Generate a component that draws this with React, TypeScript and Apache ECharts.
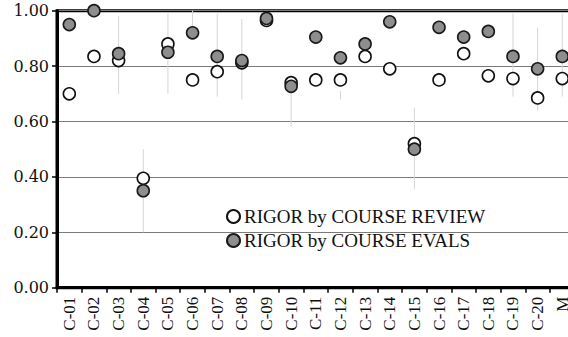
import React, { useEffect, useRef } from "react";
import * as echarts from "echarts";

// Course codes along the x axis
const categories = [
  "C-01", "C-02", "C-03", "C-04", "C-05", "C-06", "C-07", "C-08", "C-09", "C-10",
  "C-11", "C-12", "C-13", "C-14", "C-15", "C-16", "C-17", "C-18", "C-19", "C-20", "M",
];

// Rigor score from the course review
const reviewRigor = [
  0.70, 0.835, 0.82, 0.395, 0.88, 0.75, 0.78, 0.812, 0.965, 0.74,
  0.75, 0.75, 0.835, 0.79, 0.52, 0.75, 0.845, 0.765, 0.755, 0.685, 0.755,
];

// Rigor score from course evaluations
const evalRigor = [
  0.95, 1.00, 0.845, 0.35, 0.85, 0.92, 0.835, 0.82, 0.972, 0.727,
  0.905, 0.83, 0.88, 0.96, 0.50, 0.94, 0.905, 0.925, 0.835, 0.79, 0.835,
];

// Range lines behind the points (null = none)
const rangeLow: (number | null)[] = [
  null, null, 0.70, 0.20, 0.70, 0.935, 0.69, 0.68, null, 0.58,
  null, 0.68, null, null, 0.355, null, null, null, 0.69, 0.64, 0.69,
];
const rangeHigh: (number | null)[] = [
  null, null, 0.98, 0.50, 0.99, 1.00, 0.99, 0.97, null, 0.73,
  null, 0.71, null, null, 0.65, null, null, null, 0.99, 0.94, 0.99,
];

const yTicks = [0, 0.2, 0.4, 0.6, 0.8, 1.0];

const SERIF = "'Liberation Serif', 'Times New Roman', serif";
const SERIF_WIDE = "'DejaVu Serif', serif";

export default function App() {
  const ref = useRef<HTMLDivElement>(null);

  useEffect(() => {
    if (!ref.current) return;
    const chart = echarts.init(ref.current, undefined, { renderer: "svg" });

    const rangeData = categories
      .map((_, i) => [i, rangeLow[i], rangeHigh[i]])
      .filter((d) => d[1] != null && d[2] != null);

    chart.setOption({
      animation: false,
      backgroundColor: "#ffffff",
      grid: {
        left: 57,
        top: 10.7,
        width: 517.6,
        height: 277,
        show: true,
        borderColor: "#000",
        borderWidth: 3,
        outerBoundsMode: "none",
      },
      legend: {
        orient: "vertical",
        left: 221,
        top: 202,
        padding: 5,
        itemWidth: 13,
        itemHeight: 13,
        itemGap: 5,
        icon: "circle",
        data: ["RIGOR by COURSE REVIEW", "RIGOR by COURSE EVALS"],
        textStyle: { fontFamily: SERIF, fontSize: 19, color: "#111", padding: [0, 0, 0, -1] },
      },
      xAxis: {
        type: "category",
        data: categories,
        boundaryGap: true,
        axisLine: { lineStyle: { color: "#000", width: 3 } },
        axisTick: { show: true, length: 5, lineStyle: { color: "#000", width: 1.5 } },
        axisLabel: {
          rotate: 90,
          interval: 0,
          margin: 9,
          fontFamily: SERIF,
          fontSize: 17,
          color: "#111",
        },
        splitLine: { show: false },
      },
      yAxis: {
        type: "value",
        min: 0,
        max: 1,
        interval: 0.2,
        axisLine: { show: true, lineStyle: { color: "#000", width: 3 } },
        axisTick: { show: true, length: 5, lineStyle: { color: "#000", width: 1.5 } },
        axisLabel: {
          margin: 8,
          fontFamily: SERIF_WIDE,
          fontSize: 16,
          color: "#111",
          formatter: (v: number) =>
            yTicks.some((t) => Math.abs(t - v) < 1e-9) ? v.toFixed(2) : "",
        },
        splitLine: { show: true, lineStyle: { color: "#7a7a7a", width: 1.2 } },
      },
      series: [
        {
          type: "custom",
          name: "range",
          z: 1,
          silent: true,
          data: rangeData,
          renderItem: (_params: any, api: any) => {
            const p1 = api.coord([api.value(0), api.value(1)]);
            const p2 = api.coord([api.value(0), api.value(2)]);
            return {
              type: "line",
              shape: { x1: p1[0], y1: p1[1], x2: p2[0], y2: p2[1] },
              style: { stroke: "#d6d6d6", lineWidth: 1 },
            };
          },
        },
        {
          type: "scatter",
          name: "RIGOR by COURSE REVIEW",
          z: 3,
          symbol: "circle",
          symbolSize: 12,
          data: reviewRigor,
          itemStyle: { color: "#ffffff", borderColor: "#111", borderWidth: 1.6, opacity: 1 },
        },
        {
          type: "scatter",
          name: "RIGOR by COURSE EVALS",
          z: 4,
          symbol: "circle",
          symbolSize: 12,
          data: evalRigor,
          itemStyle: { color: "#8e8e8e", borderColor: "#1a1a1a", borderWidth: 1.6, opacity: 1 },
        },
      ],
    });

    return () => chart.dispose();
  }, []);

  return (
    <div
      style={{
        position: "fixed",
        left: 0,
        top: 0,
        width: 568,
        height: 337,
        overflow: "hidden",
        background: "#fff",
      }}
    >
      <div ref={ref} style={{ width: 600, height: 337 }} />
    </div>
  );
}
